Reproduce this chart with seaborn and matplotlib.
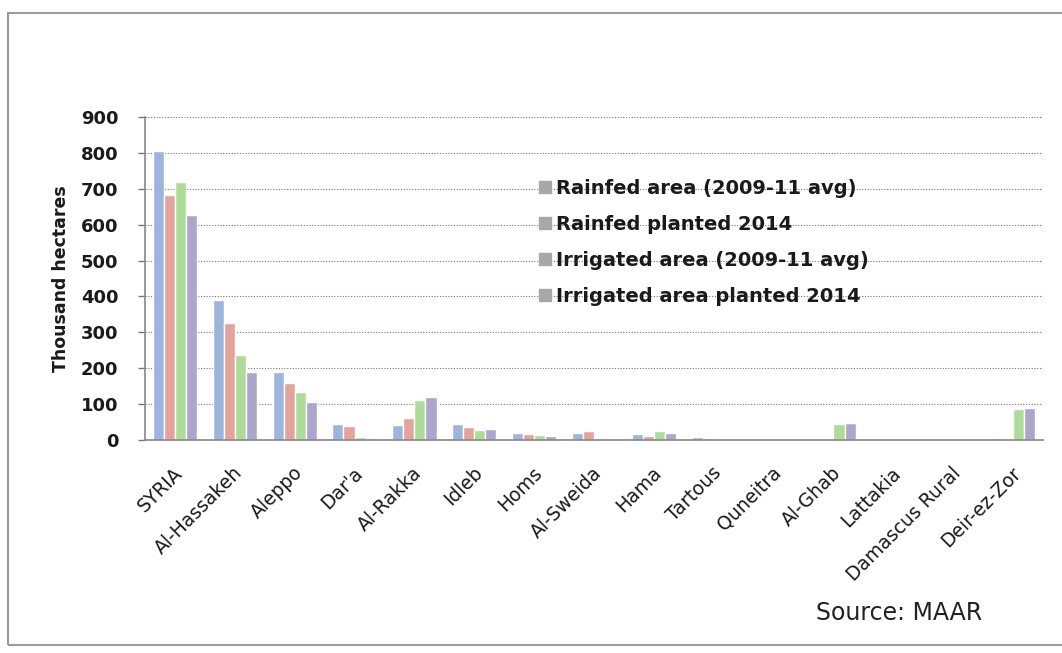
import numpy as np
import pandas as pd
import matplotlib
matplotlib.use("Agg")
import matplotlib.pyplot as plt
import matplotlib.transforms as mtransforms
from matplotlib.patches import Rectangle
from matplotlib.lines import Line2D
import seaborn as sns

categories = ["SYRIA", "Al-Hassakeh", "Aleppo", "Dar'a", "Al-Rakka", "Idleb", "Homs",
              "Al-Sweida", "Hama", "Tartous", "Quneitra", "Al-Ghab", "Lattakia",
              "Damascus Rural", "Deir-ez-Zor"]
series_names = ["Rainfed area (2009-11 avg)", "Rainfed planted 2014",
                "Irrigated area (2009-11 avg)", "Irrigated area planted 2014"]
rainfed_avg = [805, 390, 190, 45, 42, 45, 20, 20, 18, 8, 3, 3, 4, 3, 5]
rainfed_2014 = [682, 326, 159, 38, 61, 35, 18, 25, 12, 5, 2, 2, 3, 2, 2]
irrigated_avg = [718, 237, 134, 8, 111, 28, 15, 5, 25, 3, 1, 45, 1, 3, 85]
irrigated_2014 = [627, 189, 106, 5, 120, 30, 12, 3, 20, 2, 1, 47, 1, 2, 90]
y_ticks = [0, 100, 200, 300, 400, 500, 600, 700, 800, 900]

colors = ["#9DB5DC", "#E3A29A", "#ADDB98", "#ACA6CC"]

rows = []
for name, vals in zip(series_names, [rainfed_avg, rainfed_2014, irrigated_avg, irrigated_2014]):
    for c, v in zip(categories, vals):
        rows.append({"Region": c, "Series": name, "Value": v})
df = pd.DataFrame(rows)

sns.set_style("white")
plt.rcParams["font.family"] = ["DejaVu Sans"]

fig = plt.figure(figsize=(10.62, 6.53), dpi=100)
ax = fig.add_axes([145 / 1062, 1 - 440 / 653, (1043 - 145) / 1062, (440 - 117) / 653])

sns.barplot(data=df, x="Region", y="Value", hue="Series", order=categories,
            hue_order=series_names, palette=colors, saturation=1, width=0.74,
            ax=ax, legend=False, zorder=2)

ax.set_ylim(0, 900)
ax.set_xlim(-0.5, len(categories) - 0.5)
ax.set_yticks(y_ticks)
ax.set_yticklabels([str(t) for t in y_ticks], fontsize=13, fontweight="bold", color="#1a1a1a")
for t in y_ticks[1:]:
    ax.axhline(t, color="#777777", linestyle=(0, (1, 1.5)), linewidth=0.8, zorder=1)

# category labels drawn as rotated text anchored below each category
ax.set_xticks(range(len(categories)))
ax.set_xticklabels([])
ax.tick_params(axis="x", which="major", length=0)
ax.set_xticks(np.arange(len(categories) + 1) - 0.5, minor=True)
ax.tick_params(axis="x", which="minor", length=6, color="#777777", width=1, direction="out")
ax.tick_params(axis="y", which="major", length=5, color="#777777", width=1, direction="out", left=True, pad=14)

label_tr = mtransforms.blended_transform_factory(ax.transData, ax.transAxes) + \
    mtransforms.ScaledTranslation(5 / 100, -30 / 100, fig.dpi_scale_trans)
for i, c in enumerate(categories):
    ax.text(i, 0, c, transform=label_tr, rotation=45, ha="right", va="center",
            rotation_mode="anchor", fontsize=13.5, color="#1a1a1a", clip_on=False)

ax.set_xlabel("")
ax.set_ylabel("Thousand hectares", fontsize=12.5, fontweight="bold", color="#1a1a1a", labelpad=8)

for s in ["top", "right"]:
    ax.spines[s].set_visible(False)
for s in ["left", "bottom"]:
    ax.spines[s].set_color("#888888")
    ax.spines[s].set_linewidth(1.2)

handles = [Line2D([0], [0], marker="s", linestyle="", markersize=8,
                  markerfacecolor="#A8A8A8", markeredgecolor="#A8A8A8") for _ in series_names]
leg = fig.legend(handles, series_names, loc="upper left",
                 bbox_to_anchor=(531 / 1062, 1 - 171 / 653), frameon=False,
                 prop={"size": 14, "weight": "bold"}, labelspacing=0.88,
                 handlelength=0.6, handletextpad=0.3, borderaxespad=0)
for t in leg.get_texts():
    t.set_color("#1a1a1a")

fig.text(816 / 1062, 1 - 613 / 653, "Source: MAAR", fontsize=17, color="#222222", va="center")

fig.patches.append(Rectangle((8 / 1062, 8 / 653), 1.2, (653 - 13 - 8) / 653,
                             transform=fig.transFigure, fill=False,
                             edgecolor="#9a9a9a", linewidth=1.5, zorder=0))

fig.savefig("out.png", dpi=100, facecolor="white")
